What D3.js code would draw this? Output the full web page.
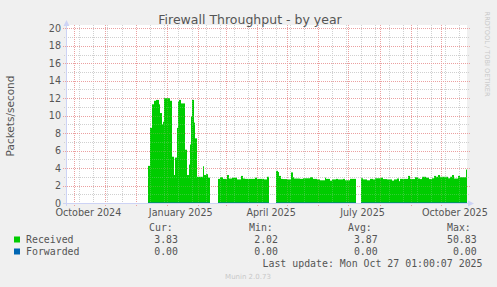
<!DOCTYPE html>
<html>
<head>
<meta charset="utf-8">
<title>Firewall Throughput - by year</title>
<script src="https://d3js.org/d3.v7.min.js"></script>
<style>
  body { margin: 0; background: #f0f0f0; }
  svg { display: block; }
</style>
</head>
<body>
<svg id="chart"></svg>
<script>
// step data: each value holds from its date to the next date, null = no data
const dates = [
  "2024-12-13","2024-12-15","2024-12-17","2024-12-19","2024-12-21","2024-12-24","2024-12-25","2024-12-27",
  "2024-12-28","2024-12-29","2025-01-04","2025-01-06","2025-01-08","2025-01-09","2025-01-11","2025-01-12",
  "2025-01-13","2025-01-15","2025-01-19","2025-01-21","2025-01-23","2025-01-24","2025-01-25","2025-01-26",
  "2025-01-28","2025-01-29","2025-01-31","2025-02-06","2025-02-07","2025-02-09","2025-02-11","2025-02-13",
  "2025-02-21","2025-02-23","2025-02-26","2025-03-02","2025-03-04","2025-03-07","2025-03-12","2025-03-16",
  "2025-03-18","2025-03-20","2025-03-30","2025-04-01","2025-04-08","2025-04-11","2025-04-13",
  "2025-04-20","2025-04-22","2025-04-23","2025-04-25","2025-04-27","2025-05-01","2025-05-05","2025-05-07",
  "2025-05-08","2025-05-14","2025-05-17","2025-05-24","2025-05-27","2025-05-31","2025-06-03","2025-06-08",
  "2025-06-09","2025-06-13","2025-06-15","2025-06-19","2025-06-21","2025-06-26","2025-06-28","2025-07-03",
  "2025-07-09",
  "2025-07-13","2025-07-15","2025-07-19","2025-07-22","2025-07-25","2025-07-27","2025-08-02","2025-08-04",
  "2025-08-08","2025-08-13","2025-08-15","2025-08-18","2025-08-20","2025-08-21","2025-08-29","2025-08-31",
  "2025-09-02","2025-09-05","2025-09-08","2025-09-10","2025-09-12","2025-09-16","2025-09-19","2025-09-22",
  "2025-09-24","2025-09-26","2025-09-28","2025-09-30","2025-10-08","2025-10-10","2025-10-12","2025-10-14",
  "2025-10-18","2025-10-20","2025-10-26","2025-10-27"
];
const received = [
  4.25, 8.6, 11.3, 11.7, 11.8, 11.3, 10.3, 9.0,
  9.3, 12.0, 11.7, 5.3, 3.2, 5.2, 8.6, 11.6,
  11.8, 11.4, 6.1, 3.2, 4.4, 6.7, 9.9, 11.8,
  9.2, 7.4, 3.0, 4.2, 3.2, 3.3, 2.9, null,
  2.76, 2.95, 2.76, 3.2, 2.8, 2.9, 2.7, 3.1,
  2.8, 2.76, 2.9, 2.76, 2.7, 3.0, null,
  3.68, 3.55, 3.1, 2.76, 2.74, 2.7, 3.5, 2.95,
  2.8, 2.76, 2.83, 2.95, 2.76, 2.7, 2.6, 2.9,
  2.76, 2.56, 2.7, 2.76, 2.7, 2.76, 2.6, 2.76,
  null,
  2.83, 2.7, 2.6, 2.76, 2.7, 2.83, 2.9, 2.74,
  2.7, 2.56, 2.7, 2.8, 2.5, 2.76, 3.1, 2.76,
  2.74, 2.95, 2.8, 2.74, 3.0, 2.9, 2.74, 2.83,
  3.1, 3.0, 3.2, 3.0, 2.83, 3.0, 3.2, 2.8,
  3.1, 2.95, 3.83, null
];
// Forwarded stays at 0 wherever data exists
const forwardedSpans = [
  ["2024-12-13", "2025-02-13", 0],
  ["2025-02-21", "2025-04-13", 0],
  ["2025-04-20", "2025-07-09", 0],
  ["2025-07-13", "2025-10-27", 0]
];

const yTicks = [0, 2, 4, 6, 8, 10, 12, 14, 16, 18, 20];
const yMinor = [1, 3, 5, 7, 9, 11, 13, 15, 17, 19];
const xLabels = ["October 2024", "January 2025", "April 2025", "July 2025", "October 2025"];
const xLabelDates = ["2024-10-15", "2025-01-15", "2025-04-15", "2025-07-15", "2025-10-15"];

const legendNames = ["Received", "Forwarded"];
const legendColors = ["#00cc00", "#0066b3"];
const statHeads = ["Cur:", "Min:", "Avg:", "Max:"];
const statCur = ["3.83", "0.00"];
const statMin = ["2.02", "0.00"];
const statAvg = ["3.87", "0.00"];
const statMax = ["50.83", "0.00"];

const W = 497, H = 287;
const plotL = 66, plotR = 467, plotT = 25, plotB = 203;
const parse = d3.timeParse("%Y-%m-%d");
const sans = "DejaVu Sans, sans-serif", mono = "DejaVu Sans Mono, monospace";
const textCol = "#555";

const svg = d3.select("#chart").attr("width", W).attr("height", H);
svg.append("rect").attr("width", W).attr("height", H).attr("fill", "#f0f0f0");

const x = d3.scaleTime()
  .domain([new Date(2024, 8, 22, 17), new Date(2025, 9, 27, 1)])
  .range([plotL, plotR]);
const y = d3.scaleLinear().domain([0, 20]).range([203, 28.3]);

// plot canvas
svg.append("rect")
  .attr("x", plotL).attr("y", plotT)
  .attr("width", plotR - plotL).attr("height", plotB - plotT)
  .attr("fill", "#fff");

const weeks = d3.timeDay.range(new Date(2024, 9, 6), x.domain()[1], 14);
const months = d3.timeMonth.range(x.domain()[0], x.domain()[1]);

function drawGrid(opacity) {
  const grid = svg.append("g").attr("stroke-dasharray", "1,1")
    .attr("stroke-width", 1).attr("opacity", opacity);
  grid.selectAll(".hmin").data(yMinor).enter().append("line")
    .attr("x1", plotL - 2).attr("x2", plotR + 2)
    .attr("y1", d => Math.round(y(d)) + 0.5).attr("y2", d => Math.round(y(d)) + 0.5)
    .attr("stroke", "#d0d0d0");
  grid.selectAll(".vmin").data(weeks).enter().append("line")
    .attr("x1", d => Math.round(x(d)) + 0.5).attr("x2", d => Math.round(x(d)) + 0.5)
    .attr("y1", plotT).attr("y2", plotB + 2)
    .attr("stroke", "#d0d0d0");
  grid.selectAll(".hmaj").data(yTicks.slice(1)).enter().append("line")
    .attr("x1", plotL - 3).attr("x2", plotR + 3)
    .attr("y1", d => Math.round(y(d)) + 0.5).attr("y2", d => Math.round(y(d)) + 0.5)
    .attr("stroke", "#eba0a0");
  grid.selectAll(".vmaj").data(months).enter().append("line")
    .attr("x1", d => Math.round(x(d)) + 0.5).attr("x2", d => Math.round(x(d)) + 0.5)
    .attr("y1", plotT).attr("y2", plotB + 3)
    .attr("stroke", "#eba0a0");
}

drawGrid(1);

// received area: one step column per value, from its date to the next date
const steps = dates.slice(0, -1)
  .map((d, i) => ({ t0: parse(d), t1: parse(dates[i + 1]), v: received[i] }))
  .filter(s => s.v !== null);
svg.append("g").selectAll("rect").data(steps).enter().append("rect")
  .attr("x", s => Math.round(x(s.t0)))
  .attr("width", s => Math.round(x(s.t1)) - Math.round(x(s.t0)))
  .attr("y", s => y(s.v))
  .attr("height", s => y(0) - y(s.v))
  .attr("fill", legendColors[0]);

// forwarded line
svg.selectAll(".fwd").data(forwardedSpans).enter().append("line")
  .attr("x1", d => Math.round(x(parse(d[0])))).attr("x2", d => Math.round(x(parse(d[1]))))
  .attr("y1", d => y(d[2]) - 0.5).attr("y2", d => y(d[2]) - 0.5)
  .attr("stroke", legendColors[1]).attr("stroke-width", 1).attr("opacity", 0.5);

// faint grid showing through the area, as rrdtool does
drawGrid(0.25);

// axes
const axisCol = "#cdd3f5";
svg.append("line").attr("x1", plotL - 3).attr("x2", plotR + 2)
  .attr("y1", plotB + 0.5).attr("y2", plotB + 0.5).attr("stroke", axisCol);
svg.append("line").attr("x1", plotL + 0.5).attr("x2", plotL + 0.5)
  .attr("y1", plotB + 3).attr("y2", 24).attr("stroke", axisCol);
svg.append("path").attr("d", `M${plotR + 1},${plotB - 2.5}L${plotR + 7},${plotB + 0.5}L${plotR + 1},${plotB + 3.5}Z`)
  .attr("fill", axisCol);
svg.append("path").attr("d", `M${plotL - 2.5},26L${plotL + 0.5},20L${plotL + 3.5},26Z`)
  .attr("fill", axisCol);

// y tick labels
svg.selectAll(".ylab").data(yTicks).enter().append("text")
  .attr("x", 61).attr("y", d => y(d) + 3.5)
  .attr("text-anchor", "end")
  .attr("font-family", sans).attr("font-size", "9.6px").attr("fill", textCol)
  .text(d => d);

// x labels
svg.selectAll(".xlab").data(xLabels).enter().append("text")
  .attr("x", (d, i) => x(parse(xLabelDates[i])))
  .attr("y", 216)
  .attr("text-anchor", "middle")
  .attr("font-family", sans).attr("font-size", "9.6px").attr("fill", textCol)
  .text(d => d);

// title and axis label
svg.append("text").attr("x", 250).attr("y", 23.5).attr("text-anchor", "middle")
  .attr("font-family", sans).attr("font-size", "12.5px").attr("fill", textCol)
  .text("Firewall Throughput - by year");
svg.append("text").attr("transform", "translate(13.5,116) rotate(-90)")
  .attr("text-anchor", "middle")
  .attr("font-family", sans).attr("font-size", "10.5px").attr("fill", textCol)
  .text("Packets/second");
svg.append("text").attr("transform", "translate(485,54) rotate(90)")
  .attr("text-anchor", "middle")
  .attr("font-family", sans).attr("font-size", "6.6px").attr("fill", "#c8c8c8")
  .text("RRDTOOL / TOBI OETIKER");

// legend
const headX = [149, 249, 348, 447];
const valX = [178, 278, 377.7, 476.7];
svg.selectAll(".head").data(statHeads).enter().append("text")
  .attr("x", (d, i) => headX[i]).attr("y", 231)
  .attr("font-family", mono).attr("font-size", "9.9px").attr("fill", textCol)
  .text(d => d);
const rows = svg.selectAll(".row").data(legendNames).enter().append("g")
  .attr("transform", (d, i) => `translate(0,${243 + i * 12})`);
rows.append("rect").attr("x", 14).attr("y", -6.5).attr("width", 6).attr("height", 6)
  .attr("fill", (d, i) => legendColors[i]);
rows.append("text").attr("x", 26).attr("y", 0)
  .attr("font-family", mono).attr("font-size", "9.9px").attr("fill", textCol)
  .text(d => d);
[statCur, statMin, statAvg, statMax].forEach((col, j) => {
  rows.append("text").attr("x", valX[j]).attr("y", 0).attr("text-anchor", "end")
    .attr("font-family", mono).attr("font-size", "9.9px").attr("fill", textCol)
    .text((d, i) => col[i]);
});
svg.append("text").attr("x", 482.5).attr("y", 266.5).attr("text-anchor", "end")
  .attr("font-family", mono).attr("font-size", "9.9px").attr("fill", textCol)
  .text("Last update: Mon Oct 27 01:00:07 2025");
svg.append("text").attr("x", 248).attr("y", 278.5).attr("text-anchor", "middle")
  .attr("font-family", sans).attr("font-size", "7px").attr("fill", "#c8c8c8")
  .text("Munin 2.0.73");
</script>
</body>
</html>
